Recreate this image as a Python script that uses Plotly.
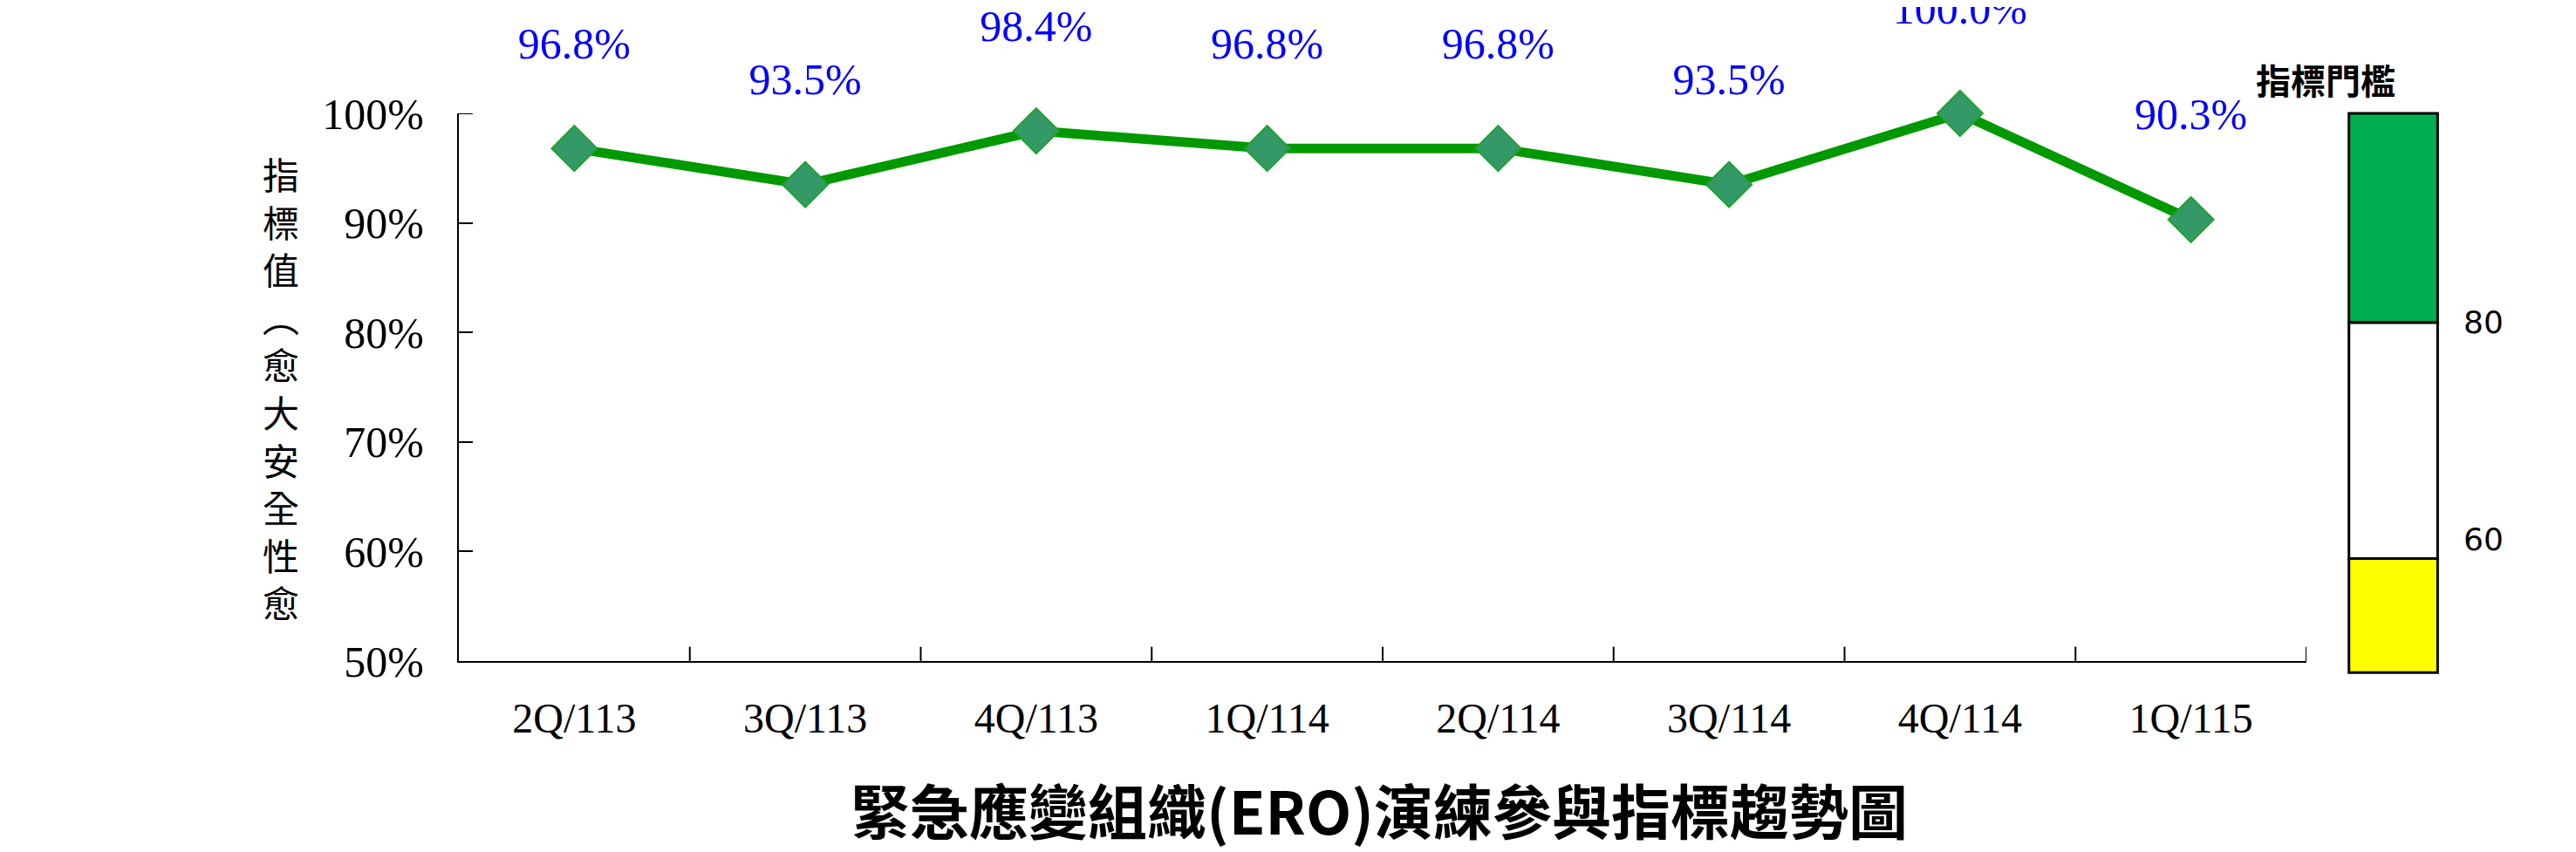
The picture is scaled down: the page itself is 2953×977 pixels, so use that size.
import plotly.graph_objects as go

categories = ["2Q/113", "3Q/113", "4Q/113", "1Q/114", "2Q/114", "3Q/114", "4Q/114", "1Q/115"]
values = [96.8, 93.5, 98.4, 96.8, 96.8, 93.5, 100.0, 90.3]
y_ticks = [50, 60, 70, 80, 90, 100]
threshold_labels = ["80", "60"]

serif = "Liberation Serif, Times New Roman, serif"
cjk = "Noto Sans CJK TC"

fig = go.Figure()
fig.add_trace(go.Scatter(
    x=list(range(len(categories))), y=values, mode="lines+markers+text",
    line=dict(color="#009900", width=11),
    marker=dict(symbol="diamond", size=40, color="#339966", line=dict(color="#22a030", width=2)),
    text=[f"{v:.1f}%<br> " for v in values], textposition="top center",
    textfont=dict(family=serif, size=50, color="#0000ff"),
    cliponaxis=False, hoverinfo="skip"))

fig.update_layout(
    width=2953, height=977, plot_bgcolor="white", paper_bgcolor="white",
    margin=dict(l=518, r=317, t=122, b=227), showlegend=False,
    xaxis=dict(range=[-0.5, 7.5], tickmode="array", tickvals=list(range(len(categories))),
               ticktext=categories, showline=True, linecolor="black", linewidth=2,
               showgrid=False, zeroline=False, ticks="", tickfont=dict(family=serif, size=48, color="black"),
               ticklabelstandoff=22),
    yaxis=dict(range=[50, 100], tickvals=y_ticks, ticktext=[f"{t}%" for t in y_ticks],
               showline=True, linecolor="black", linewidth=2, showgrid=False, zeroline=False,
               ticks="inside", ticklen=16, tickcolor="black", tickwidth=2,
               tickfont=dict(family=serif, size=50, color="black"), ticklabelstandoff=28),
)

for i in range(1, len(categories) + 1):
    fig.add_shape(type="line", xref="x", yref="paper", x0=i - 0.5, x1=i - 0.5, y0=0, y1=0.026,
                  line=dict(color="black", width=2))
fig.add_shape(type="line", xref="paper", yref="y", x0=0, x1=0.0075, y0=100, y1=100, line=dict(color="black", width=2))

x0, x1 = 1.023, 1.071
fig.add_shape(type="rect", xref="paper", yref="paper", x0=x0, x1=x1, y0=0.618, y1=1.0,
              fillcolor="#00b050", line=dict(color="black", width=3))
fig.add_shape(type="rect", xref="paper", yref="paper", x0=x0, x1=x1, y0=0.187, y1=0.618,
              fillcolor="white", line=dict(color="black", width=3))
fig.add_shape(type="rect", xref="paper", yref="paper", x0=x0, x1=x1, y0=-0.021, y1=0.187,
              fillcolor="#ffff00", line=dict(color="black", width=3))
for lbl, yp in zip(threshold_labels, [0.618, 0.187]):
    fig.add_annotation(xref="paper", yref="paper", x=1.084, y=yp, text=lbl, showarrow=False,
                       xanchor="left", font=dict(family="DejaVu Sans", size=36, color="black"))
fig.add_annotation(xref="paper", yref="paper", x=1.049, y=1.112, text="<b>指標門檻</b>", showarrow=False,
                   font=dict(family=cjk, size=40, color="black"))

fig.add_annotation(xref="paper", yref="paper", x=-0.107, y=0.5, text="<br>".join("指標值︵愈大安全性愈"),
                   showarrow=False, font=dict(family=cjk, size=42, color="black"))

fig.add_annotation(xref="paper", yref="paper", x=0.498, y=-0.27, yanchor="middle",
                   text="<b>緊急應變組織(ERO)演練參與指標趨勢圖</b>", showarrow=False,
                   font=dict(family=cjk, size=68, color="black"))

fig.write_html("out.html")
